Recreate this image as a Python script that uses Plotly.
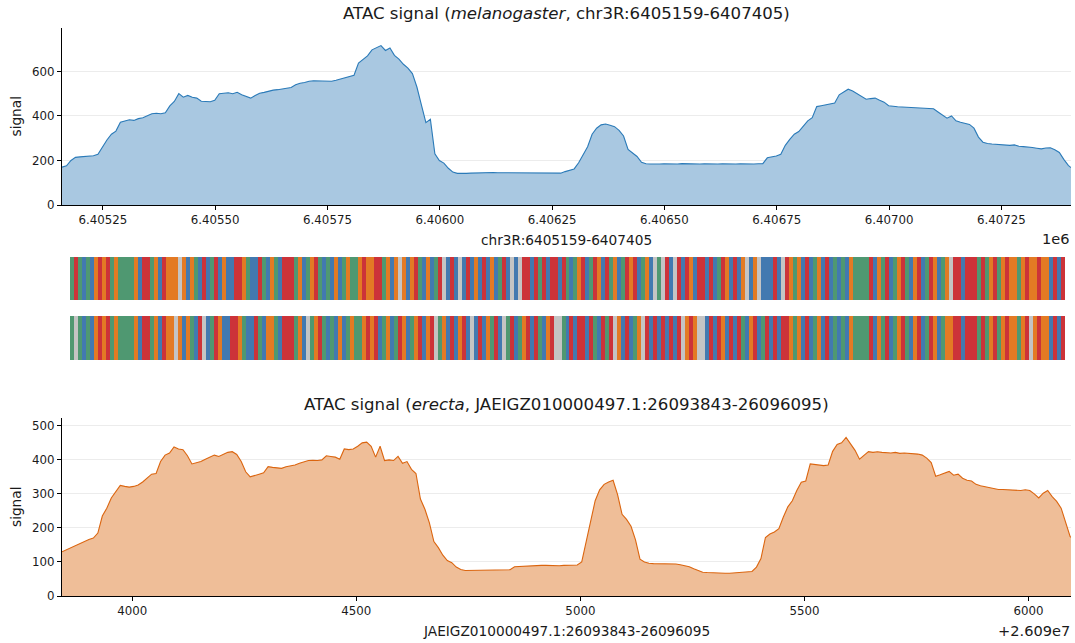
import numpy as np
import plotly.graph_objects as go

W, H = 1075, 643
FONT = "DejaVu Sans"

# Genomic windows
MEL_START, MEL_END = 6405159, 6407405
ERE_START, ERE_END = 26093843, 26096095

# ATAC signal in 10 bp bins (last value at the window end)
mel_signal = [
    170, 176, 200, 214, 216, 218, 220, 221, 228, 262,
    292, 318, 332, 372, 378, 383, 380, 388, 392, 402,
    410, 412, 410, 414, 445, 465, 500, 484, 492, 484,
    480, 466, 465, 464, 470, 500, 502, 504, 500, 506,
    495, 488, 480, 492, 502, 506, 512, 516, 518, 521,
    524, 528, 540, 547, 550, 556, 558, 557, 556, 555,
    556, 560, 565, 570, 575, 583, 637, 655, 670, 697,
    706, 716, 694, 705, 672, 655, 632, 615, 590, 530,
    450, 370, 385, 230, 200, 188, 165, 148, 142, 141,
    142, 143, 144, 145, 145, 146, 146, 145, 145, 144,
    144, 143, 143, 143, 142, 142, 143, 143, 142, 142,
    142, 143, 150, 157, 162, 190, 228, 262, 318, 345,
    360, 364, 358, 352, 335, 310, 250, 235, 218, 192,
    185, 184, 183, 184, 185, 184, 183, 184, 186, 185,
    184, 183, 184, 185, 184, 183, 184, 185, 184, 183,
    184, 185, 184, 185, 184, 185, 186, 212, 216, 220,
    228, 268, 295, 318, 330, 355, 378, 392, 442, 446,
    450, 452, 458, 495, 508, 520, 512, 500, 490, 475,
    478, 480, 470, 462, 446, 442, 441, 440, 438, 438,
    437, 436, 435, 434, 432, 418, 405, 390, 400, 378,
    372, 368, 362, 345, 305, 282, 276, 274, 272, 270,
    269, 268, 270, 264, 262, 261, 258, 255, 252, 256,
    257, 248, 236, 205, 178, 168,
]

ere_signal = [
    130, 136, 142, 148, 155, 160, 166, 170, 185, 235,
    258, 288, 308, 325, 322, 320, 322, 326, 335, 346,
    358, 360, 395, 414, 420, 438, 432, 430, 412, 388,
    392, 395, 402, 408, 414, 410, 415, 422, 424, 416,
    395, 365, 350, 355, 358, 362, 380, 378, 376, 375,
    380, 382, 385, 390, 394, 398, 399, 398, 400, 412,
    410, 408, 402, 432, 430, 432, 440, 450, 452, 440,
    408, 440, 398, 400, 398, 410, 390, 395, 372, 360,
    285, 255, 215, 160, 142, 120, 104, 98, 85, 78,
    75, 75, 75, 75, 75, 75, 75, 76, 76, 76,
    77, 86, 87, 88, 88, 89, 89, 90, 90, 89,
    89, 89, 90, 90, 90, 91, 100, 160, 210, 280,
    312, 328, 335, 340, 298, 240, 225, 205, 165, 108,
    100, 96, 95, 95, 95, 95, 95, 94, 92, 90,
    86, 80, 74, 70, 69, 68, 68, 67, 67, 67,
    68, 68, 70, 71, 72, 85, 110, 172, 182, 188,
    198, 232, 262, 280, 310, 334, 338, 388, 386, 385,
    383, 385, 425, 445, 450, 466, 448, 428, 402, 414,
    424, 422, 424, 422, 421, 420, 422, 419, 420, 419,
    419, 417, 414, 405, 392, 352, 356, 362, 366, 355,
    358, 346, 340, 338, 328, 324, 321, 320, 316, 313,
    313, 312, 311, 312, 310, 312, 310, 300, 288, 302,
    310, 292, 278, 258, 215, 175, 172,
]

mel_pos = np.append(np.arange(MEL_START, MEL_END, 10), MEL_END)
ere_pos = np.append(np.arange(ERE_START, ERE_END, 10), ERE_END)

# Tick labels (scaled coordinates with offset text)
mel_tickvals = [6405250, 6405500, 6405750, 6406000, 6406250, 6406500, 6406750, 6407000, 6407250]
mel_ticktext = ["6.40525", "6.40550", "6.40575", "6.40600", "6.40625", "6.40650", "6.40675", "6.40700", "6.40725"]
ere_tickvals = [26094000, 26094500, 26095000, 26095500, 26096000]
ere_ticktext = ["4000", "4500", "5000", "5500", "6000"]

# Aligned sequences (melanogaster / erecta), '-' marks alignment gaps
mel_seq_parts = [
    "ATACACGTGTAGAAAAGCTTAGCTG", "GG-GCGACTCATCGCCTTGACCTAC", "GACTTTAGCAGTACACGCAGAAGTG",
    "GTTAGCG-GCGTACGCAT-CTC-CT", "CGCTCGCATC-C-TTCTATCTTCTA", "CAGTCATGCTAGCATGTCAGC-A-T",
    "C-TCTGCTTCTCATGCTCG-CG-CC", "CTC-TGAGCTCAGCTCACACGAAAA", "TCGATCAGTACGTCATGCAG-TTCT",
    "TTATAGTAGTGGAGTGGTGGCTCT",
]
ere_seq_parts = [
    "A-ACACGTGTAGAAAAGCTTAGCTG", "G-GCGACT-CATGCCTTGACCTACG", "GACTTTAGC-AGTACACGCAGAAGT",
    "GTCAGCATGCAGTCGT-AGCTCGTC", "-CTCGATC-ATCAGTCTACGT--AC", "TCTTCTACTAT-GCTCAG-TCTCTC",
    "TCT-GTG--CTCTGCTCTACGTCAT", "CTCTTGAGCTCAGCTCACACGAAAA", "TCGATCAGTACGTCATGCAGGTTCT",
    "TTATAGTAGTGGAGT-GTGGCTCT",
]
mel_seq = "".join(mel_seq_parts)
ere_seq = "".join(ere_seq_parts)

BASE_CODE = {"-": 0, "A": 1, "C": 2, "G": 3, "T": 4}
BASE_COLORS = ["#c4c4c4", "#4f9871", "#4279b0", "#e37a24", "#cc3339"]


def discrete_scale(colors):
    n = len(colors)
    scale = []
    for i, c in enumerate(colors):
        scale.append([i / n, c])
        scale.append([(i + 1) / n, c])
    return scale


def px_x(p):
    return p / W


def px_y(p):
    return 1 - p / H


fig = go.Figure()

fig.add_trace(go.Scatter(
    x=mel_pos, y=mel_signal, mode="lines",
    line=dict(color="#2a7ab8", width=1.1),
    fill="tozeroy", fillcolor="#a9c8e1",
    xaxis="x", yaxis="y", hoverinfo="skip", showlegend=False,
))
fig.add_trace(go.Scatter(
    x=ere_pos, y=ere_signal, mode="lines",
    line=dict(color="#db650f", width=1.1),
    fill="tozeroy", fillcolor="#efbe98",
    xaxis="x2", yaxis="y2", hoverinfo="skip", showlegend=False,
))

for seq, xa, ya in [(mel_seq, "x3", "y3"), (ere_seq, "x4", "y4")]:
    fig.add_trace(go.Heatmap(
        z=[[BASE_CODE[b] for b in seq]],
        x=np.arange(len(seq)), y=[0],
        zmin=-0.5, zmax=4.5,
        colorscale=discrete_scale(BASE_COLORS),
        showscale=False, hoverinfo="skip",
        xaxis=xa, yaxis=ya,
    ))

axis_common = dict(
    showline=True, linecolor="#000", linewidth=1,
    ticks="outside", ticklen=4, tickwidth=1, tickcolor="#000",
    zeroline=False, automargin=False,
    tickfont=dict(family=FONT, size=11.8, color="#1a1a1a"),
)
hidden = dict(visible=False, automargin=False, showgrid=False, zeroline=False)

x_dom = [px_x(62), px_x(1071)]
track_dom = [px_x(70), px_x(1065)]

fig.update_layout(
    template="none",
    width=W, height=H, autosize=False,
    margin=dict(l=0, r=0, t=0, b=0, pad=0),
    paper_bgcolor="white", plot_bgcolor="white",
    font=dict(family=FONT, color="#1a1a1a"),
    xaxis=dict(domain=x_dom, anchor="y", range=[MEL_START, MEL_END],
               tickvals=mel_tickvals, ticktext=mel_ticktext, showgrid=False, **axis_common),
    yaxis=dict(domain=[px_y(205), px_y(28)], anchor="x", range=[0, 795],
               tickvals=[0, 200, 400, 600], showgrid=True, gridcolor="#ececec", gridwidth=1,
               **axis_common),
    xaxis2=dict(domain=x_dom, anchor="y2", range=[ERE_START, ERE_END],
                tickvals=ere_tickvals, ticktext=ere_ticktext, showgrid=False, **axis_common),
    yaxis2=dict(domain=[px_y(596), px_y(418)], anchor="x2", range=[0, 523],
                tickvals=[0, 100, 200, 300, 400, 500], showgrid=True, gridcolor="#ececec",
                gridwidth=1, **axis_common),
    xaxis3=dict(domain=track_dom, anchor="y3", range=[-0.5, len(mel_seq) - 0.5], **hidden),
    yaxis3=dict(domain=[px_y(300), px_y(257)], anchor="x3", range=[-0.5, 0.5], **hidden),
    xaxis4=dict(domain=track_dom, anchor="y4", range=[-0.5, len(ere_seq) - 0.5], **hidden),
    yaxis4=dict(domain=[px_y(360), px_y(316)], anchor="x4", range=[-0.5, 0.5], **hidden),
)


def label(text, x, y, size, xanchor="center", angle=0):
    fig.add_annotation(
        text=text, x=px_x(x), y=px_y(y), xref="paper", yref="paper",
        xanchor=xanchor, yanchor="middle", showarrow=False, textangle=angle,
        font=dict(family=FONT, size=size, color="#1a1a1a"),
    )


label("ATAC signal (<i>melanogaster</i>, chr3R:6405159-6407405)", 566.5, 14, 16.6)
label("chr3R:6405159-6407405", 566.5, 240, 13.7)
label("1e6", 1072, 238, 14.6, xanchor="right")
label("signal", 16, 116.5, 13.7, angle=-90)

label("ATAC signal (<i>erecta</i>, JAEIGZ010000497.1:26093843-26096095)", 566.5, 404, 16.6)
label("JAEIGZ010000497.1:26093843-26096095", 566.5, 631, 13.7)
label("+2.609e7", 1072, 630, 14.6, xanchor="right")
label("signal", 16, 507, 13.7, angle=-90)

fig.write_html("out.html", config={"responsive": False, "displayModeBar": False})
